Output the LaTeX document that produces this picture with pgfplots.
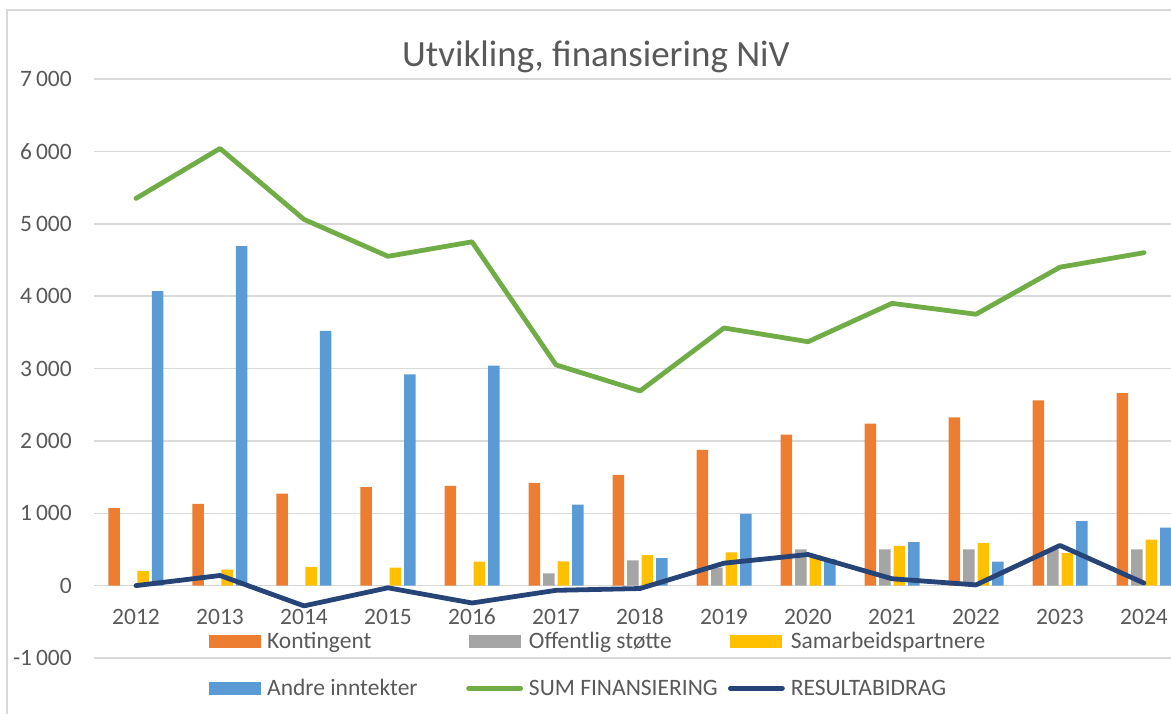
\documentclass[border=0pt]{standalone}
\usepackage{fontspec}
\setmainfont{Carlito}
\usepackage{pgfplots}
\pgfplotsset{compat=1.18}
\definecolor{cOr}{HTML}{ED7D31}
\definecolor{cGr}{HTML}{A5A5A5}
\definecolor{cYe}{HTML}{FFC000}
\definecolor{cBl}{HTML}{5B9BD5}
\definecolor{cGn}{HTML}{70AD47}
\definecolor{cDb}{HTML}{264478}
\definecolor{cTxt}{HTML}{595959}
\definecolor{cGrid}{HTML}{D9D9D9}
\pgfplotsset{
  barleg/.style={legend image code/.code={\fill[##1] (0pt,-6.5pt) rectangle (52pt,6.5pt);}},
  lineleg/.style={legend image code/.code={\draw[##1] (0pt,0pt) -- (52pt,0pt);}},
}
\begin{document}
\begin{tikzpicture}
\useasboundingbox (0pt,0pt) rectangle (1171pt,713pt);
\draw[color=cGrid, line width=1.5pt] (7pt,-20pt) -- (7pt,703pt) -- (1200pt,703pt);
\node[font=\fontsize{37}{44}\selectfont, text=cTxt, anchor=base] at (596pt,646pt) {Utvikling, finansiering NiV};
\begin{axis}[
  at={(94pt,55pt)}, anchor=south west,
  scale only axis, width=1092pt, height=579pt,
  xmin=-0.5, xmax=12.5, ymin=-1000, ymax=7000,
  axis x line*=middle, axis y line*=left,
  x axis line style={draw=none}, y axis line style={draw=none},
  major tick length=0pt,
  ymajorgrids, grid style={draw=cGrid, line width=1.5pt},
  ytick={-1000,0,1000,2000,3000,4000,5000,6000,7000},
  yticklabels={-1\,000,0,1\,000,2\,000,3\,000,4\,000,5\,000,6\,000,7\,000},
  xtick={0,1,2,3,4,5,6,7,8,9,10,11,12},
  xticklabels={2012,2013,2014,2015,2016,2017,2018,2019,2020,2021,2022,2023,2024},
  tick label style={font=\fontsize{23.5}{28}\selectfont, text=cTxt},
  yticklabel style={anchor=east, inner sep=0pt, xshift=-22pt},
  xticklabel style={anchor=north, inner sep=0pt, yshift=-23pt},
  legend columns=3,
  legend style={draw=none, fill=none, inner sep=0pt,
    at={(rel axis cs:0.1053,0.0445)}, anchor=north west,
    font=\fontsize{23.5}{28}\selectfont, text=cTxt,
    nodes={inner sep=0pt},
    row sep=29pt,
    /tikz/every odd column/.append style={column sep=6pt}},
  legend cell align=left,
]
\addplot[ybar, bar width=11.5pt, bar shift=-21.75pt, fill=cOr, draw=none, barleg] coordinates {
(0,1070) (1,1130) (2,1270) (3,1360) (4,1380) (5,1420) (6,1530) (7,1875) (8,2085) (9,2240) (10,2325) (11,2560) (12,2660)};
\addlegendentry{\makebox[199pt][l]{Kontingent}}
\addplot[ybar, bar width=11.5pt, bar shift=-7.25pt, fill=cGr, draw=none, barleg] coordinates {
(0,0) (1,0) (2,0) (3,0) (4,0) (5,170) (6,350) (7,250) (8,500) (9,500) (10,500) (11,500) (12,500)};
\addlegendentry{\makebox[199pt][l]{Offentlig støtte}}
\addplot[ybar, bar width=11.5pt, bar shift=7.25pt, fill=cYe, draw=none, barleg] coordinates {
(0,200) (1,220) (2,260) (3,250) (4,330) (5,335) (6,420) (7,460) (8,420) (9,550) (10,590) (11,450) (12,635)};
\addlegendentry{\makebox[199pt][l]{Samarbeidspartnere}}
\addplot[ybar, bar width=11.5pt, bar shift=21.75pt, fill=cBl, draw=none, barleg] coordinates {
(0,4070) (1,4690) (2,3520) (3,2920) (4,3040) (5,1120) (6,380) (7,990) (8,365) (9,600) (10,330) (11,890) (12,800)};
\addlegendentry{\makebox[199pt][l]{Andre inntekter}}
\addplot[sharp plot, color=cGn, line width=4.8pt, line cap=round, line join=round, mark=none, lineleg] coordinates {
(0,5350) (1,6040) (2,5060) (3,4550) (4,4750) (5,3050) (6,2690) (7,3560) (8,3370) (9,3900) (10,3750) (11,4400) (12,4600)};
\addlegendentry{\makebox[199pt][l]{SUM FINANSIERING}}
\addplot[sharp plot, color=cDb, line width=4.8pt, line cap=round, line join=round, mark=none, lineleg] coordinates {
(0,0) (1,140) (2,-280) (3,-30) (4,-240) (5,-65) (6,-40) (7,310) (8,430) (9,95) (10,10) (11,555) (12,35)};
\addlegendentry{\makebox[199pt][l]{RESULTABIDRAG}}
\end{axis}
\end{tikzpicture}
\end{document}
